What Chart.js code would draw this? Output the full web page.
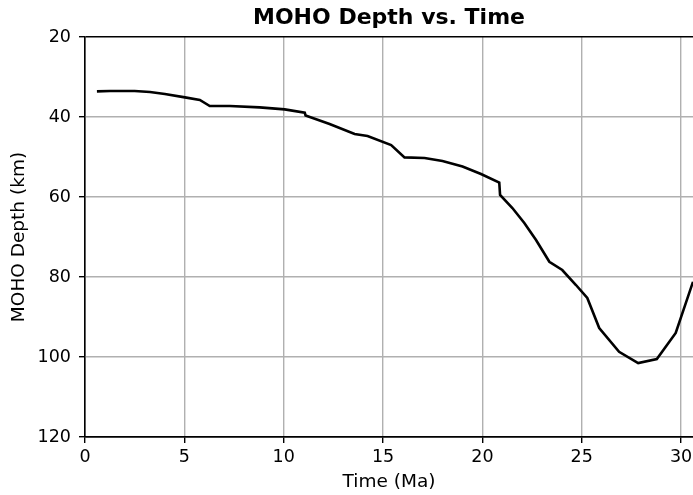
<!DOCTYPE html>
<html>
<head>
<meta charset="utf-8">
<script src="https://cdn.jsdelivr.net/npm/chart.js@4/dist/chart.umd.min.js"></script>
<style>
  html, body { margin: 0; padding: 0; background: #fff; }
  #wrap { width: 693px; height: 495px; }
</style>
</head>
<body>
<div id="wrap"><canvas id="moho-chart"></canvas></div>
<script>
// values
const timeMa = [0.6, 1.26, 2.5, 3.27, 4.02, 5.03, 5.78, 6.28, 7.29, 8.79, 10.05, 11.06, 11.1,
    12.31, 13.57, 14.22, 15.41, 16.08, 17.09, 17.99, 19.0, 19.93, 20.85, 20.89, 21.51,
    22.11, 22.7, 23.37, 24.02, 24.71, 25.28, 25.88, 26.88, 27.84, 28.78, 29.73, 30.6];
const mohoDepth = [33.6, 33.5, 33.5, 33.75, 34.25, 35.1, 35.75, 37.25, 37.25, 37.6, 38.1, 38.9, 39.6,
    41.75, 44.25, 44.75, 47.0, 50.1, 50.25, 51.0, 52.4, 54.25, 56.4, 59.5, 62.75,
    66.5, 70.75, 76.2, 78.25, 82.0, 85.25, 92.75, 98.7, 101.5, 100.5, 94.0, 81.2];
const xTicks = [0, 5, 10, 15, 20, 25, 30];
const yTicks = [20, 40, 60, 80, 100, 120];

const points = timeMa.map((t, i) => ({ x: t, y: mohoDepth[i] }));
const font = 'DejaVu Sans';

const ctx = document.getElementById('moho-chart');
new Chart(ctx, {
    type: 'line',
    data: {
        datasets: [
            {
                label: 'MOHO Depth',
                data: points,
                borderColor: '#000',
                borderWidth: 2.6,
                pointRadius: 0,
                tension: 0,
                fill: false
            }
        ]
    },
    options: {
        responsive: true,
        maintainAspectRatio: false,
        animation: false,
        layout: { padding: 0 },
        plugins: {
            legend: { display: false },
            tooltip: { enabled: false },
            title: {
                display: true,
                fullSize: false,
                text: 'MOHO Depth vs. Time',
                color: '#000',
                font: { family: font, size: 22, weight: 'bold', lineHeight: 1.2 },
                padding: { top: 5, bottom: 5.6 }
            }
        },
        scales: {
            x: {
                type: 'linear',
                min: 0,
                max: 30.6,
                afterBuildTicks: s => { s.ticks = xTicks.map(v => ({ value: v })); },
                // plot runs right up to the edge of the picture
                afterFit: s => { s.height = 58; s.paddingRight = 0; },
                ticks: {
                    includeBounds: false,
                    color: '#000',
                    padding: 4,
                    maxRotation: 0,
                    font: { family: font, size: 17.5 }
                },
                grid: {
                    color: c => c.tick && c.tick.value === 0 ? '#000' : '#b0b0b0',
                    lineWidth: 1.4,
                    tickColor: '#000',
                    tickLength: 6
                },
                border: { color: '#000', width: 1.4 },
                title: {
                    display: true,
                    text: 'Time (Ma)',
                    color: '#000',
                    font: { family: font, size: 18.5 },
                    padding: { top: 2, bottom: 1.4 }
                }
            },
            y: {
                min: 20,
                max: 120,
                reverse: true,
                afterBuildTicks: s => { s.ticks = yTicks.map(v => ({ value: v })); },
                afterFit: s => { s.width = 85; },
                ticks: {
                    color: '#000',
                    padding: 8,
                    font: { family: font, size: 17.5 }
                },
                grid: {
                    color: c => c.tick && (c.tick.value === 20 || c.tick.value === 120) ? '#000' : '#b0b0b0',
                    lineWidth: 1.4,
                    tickColor: '#000',
                    tickLength: 6
                },
                border: { color: '#000', width: 1.4 },
                title: {
                    display: true,
                    text: 'MOHO Depth (km)',
                    color: '#000',
                    font: { family: font, size: 18.5 },
                    padding: { top: 8, bottom: 4 }
                }
            }
        }
    }
});
</script>
</body>
</html>
